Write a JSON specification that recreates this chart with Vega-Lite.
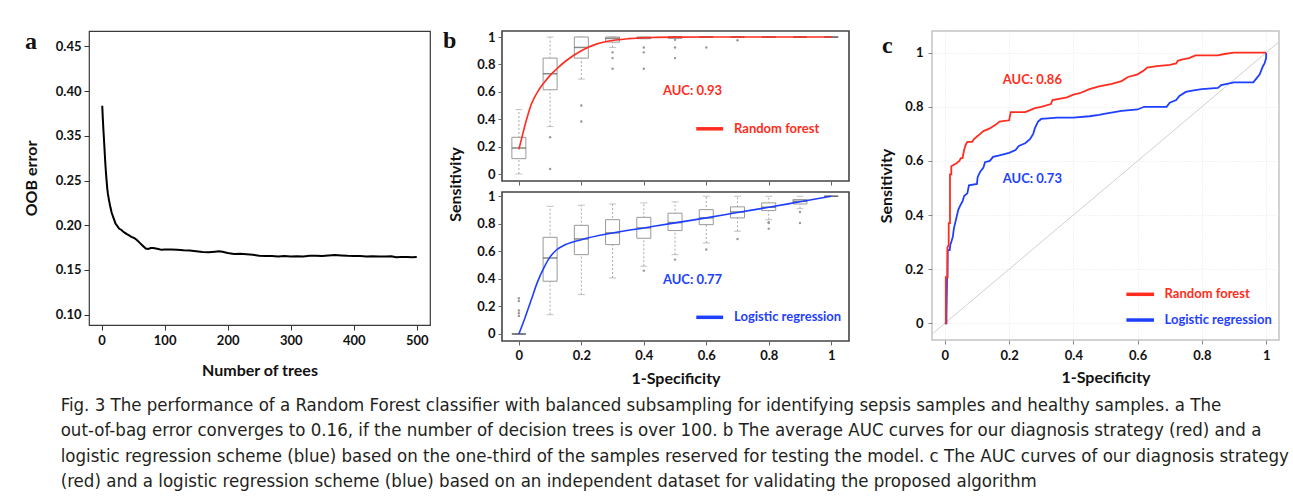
{
  "$schema": "https://vega.github.io/schema/vega-lite/v6.json",
  "background": "white",
  "padding": {"left": 22, "top": 28, "right": 5, "bottom": 5},
  "autosize": {"type": "pad"},
  "config": {
    "font": "Lato",
    "axis": {"labelFont": "Lato", "labelFontWeight": "bold", "labelFontSize": 13, "labelColor": "#111", "titleFont": "Lato", "titleFontWeight": "bold", "titleFontSize": 16, "titleColor": "#111", "grid": false, "domain": false, "tickColor": "#333", "tickSize": 5, "labelPadding": 3},
    "title": {"font": "Liberation Serif", "fontWeight": "bold", "fontSize": 24, "color": "#111"}
  },
  "datasets": {
    "oob": [
      {"trees": 1, "oob": 0.3336}, {"trees": 2, "oob": 0.318}, {"trees": 3, "oob": 0.305}, {"trees": 4, "oob": 0.293}, {"trees": 5, "oob": 0.28}, {"trees": 6, "oob": 0.268}, {"trees": 7, "oob": 0.258}, {"trees": 8, "oob": 0.249}, {"trees": 9, "oob": 0.241}, {"trees": 10, "oob": 0.235}, {"trees": 12, "oob": 0.227}, {"trees": 14, "oob": 0.22}, {"trees": 16, "oob": 0.214}, {"trees": 18, "oob": 0.21}, {"trees": 20, "oob": 0.206}, {"trees": 22, "oob": 0.202}, {"trees": 25, "oob": 0.199}, {"trees": 28, "oob": 0.196}, {"trees": 31, "oob": 0.195}, {"trees": 34, "oob": 0.193}, {"trees": 37, "oob": 0.1915}, {"trees": 40, "oob": 0.19}, {"trees": 43, "oob": 0.189}, {"trees": 46, "oob": 0.1875}, {"trees": 49, "oob": 0.1865}, {"trees": 52, "oob": 0.1855}, {"trees": 55, "oob": 0.184}, {"trees": 58, "oob": 0.182}, {"trees": 61, "oob": 0.18}, {"trees": 64, "oob": 0.178}, {"trees": 67, "oob": 0.176}, {"trees": 70, "oob": 0.174}, {"trees": 74, "oob": 0.1735}, {"trees": 78, "oob": 0.1745}, {"trees": 82, "oob": 0.1745}, {"trees": 86, "oob": 0.174}, {"trees": 90, "oob": 0.1735}, {"trees": 95, "oob": 0.1725}, {"trees": 100, "oob": 0.173}, {"trees": 110, "oob": 0.1728}, {"trees": 120, "oob": 0.1725}, {"trees": 130, "oob": 0.172}, {"trees": 140, "oob": 0.1718}, {"trees": 150, "oob": 0.171}, {"trees": 160, "oob": 0.1702}, {"trees": 170, "oob": 0.1698}, {"trees": 180, "oob": 0.1705}, {"trees": 186, "oob": 0.171}, {"trees": 192, "oob": 0.1703}, {"trees": 200, "oob": 0.169}, {"trees": 210, "oob": 0.1678}, {"trees": 220, "oob": 0.168}, {"trees": 230, "oob": 0.1675}, {"trees": 240, "oob": 0.167}, {"trees": 250, "oob": 0.1658}, {"trees": 260, "oob": 0.1655}, {"trees": 270, "oob": 0.1657}, {"trees": 280, "oob": 0.1652}, {"trees": 290, "oob": 0.1655}, {"trees": 300, "oob": 0.1652}, {"trees": 310, "oob": 0.1654}, {"trees": 320, "oob": 0.1652}, {"trees": 330, "oob": 0.1658}, {"trees": 340, "oob": 0.166}, {"trees": 350, "oob": 0.1657}, {"trees": 360, "oob": 0.1662}, {"trees": 370, "oob": 0.1668}, {"trees": 380, "oob": 0.1663}, {"trees": 390, "oob": 0.1658}, {"trees": 400, "oob": 0.1657}, {"trees": 410, "oob": 0.1655}, {"trees": 420, "oob": 0.1652}, {"trees": 430, "oob": 0.1653}, {"trees": 440, "oob": 0.165}, {"trees": 450, "oob": 0.1652}, {"trees": 460, "oob": 0.1654}, {"trees": 467, "oob": 0.1643}, {"trees": 475, "oob": 0.1645}, {"trees": 485, "oob": 0.1645}, {"trees": 492, "oob": 0.1643}, {"trees": 500, "oob": 0.1645}
    ],
    "rfbox": [
      {"x": 0, "lower": 0, "q1": 0.112, "median": 0.19, "q3": 0.268, "upper": 0.47},
      {"x": 0.1, "lower": 0.346, "q1": 0.615, "median": 0.732, "q3": 0.846, "upper": 1.0},
      {"x": 0.2, "lower": 0.693, "q1": 0.846, "median": 0.924, "q3": 1.0, "upper": 1.0},
      {"x": 0.3, "lower": 0.924, "q1": 0.963, "median": 0.99, "q3": 1.0, "upper": 1.0},
      {"x": 0.4, "lower": 0.988, "q1": 0.988, "median": 0.995, "q3": 1.0, "upper": 1.0},
      {"x": 0.5, "lower": 0.99, "q1": 0.99, "median": 1.0, "q3": 1.0, "upper": 1.0},
      {"x": 0.6, "lower": 1, "q1": 1, "median": 1, "q3": 1, "upper": 1},
      {"x": 0.7, "lower": 1, "q1": 1, "median": 1, "q3": 1, "upper": 1},
      {"x": 0.8, "lower": 1, "q1": 1, "median": 1, "q3": 1, "upper": 1},
      {"x": 0.9, "lower": 1, "q1": 1, "median": 1, "q3": 1, "upper": 1},
      {"x": 1.0, "lower": 1, "q1": 1, "median": 1, "q3": 1, "upper": 1}
    ],
    "rfout": [
      {"x": 0.1, "y": 0.268}, {"x": 0.1, "y": 0.037}, {"x": 0.2, "y": 0.5}, {"x": 0.2, "y": 0.383},
      {"x": 0.3, "y": 0.888}, {"x": 0.3, "y": 0.846}, {"x": 0.3, "y": 0.768},
      {"x": 0.4, "y": 0.924}, {"x": 0.4, "y": 0.888}, {"x": 0.4, "y": 0.768},
      {"x": 0.5, "y": 0.98}, {"x": 0.5, "y": 0.924}, {"x": 0.5, "y": 0.846},
      {"x": 0.6, "y": 0.924}, {"x": 0.7, "y": 0.976}
    ],
    "rfcurve": [
      {"x": 0, "y": 0.18}, {"x": 0.01, "y": 0.27}, {"x": 0.02, "y": 0.36}, {"x": 0.03, "y": 0.44}, {"x": 0.04, "y": 0.51}, {"x": 0.05, "y": 0.56}, {"x": 0.06, "y": 0.6}, {"x": 0.07, "y": 0.635}, {"x": 0.08, "y": 0.665}, {"x": 0.1, "y": 0.72}, {"x": 0.12, "y": 0.765}, {"x": 0.15, "y": 0.825}, {"x": 0.2, "y": 0.9}, {"x": 0.25, "y": 0.95}, {"x": 0.3, "y": 0.975}, {"x": 0.35, "y": 0.988}, {"x": 0.4, "y": 0.995}, {"x": 0.5, "y": 0.999}, {"x": 0.6, "y": 1}, {"x": 0.7, "y": 1}, {"x": 0.8, "y": 1}, {"x": 0.9, "y": 1}, {"x": 1, "y": 1}
    ],
    "lrbox": [
      {"x": 0, "lower": 0, "q1": 0, "median": 0, "q3": 0, "upper": 0},
      {"x": 0.1, "lower": 0.14, "q1": 0.383, "median": 0.552, "q3": 0.702, "upper": 0.927},
      {"x": 0.2, "lower": 0.286, "q1": 0.576, "median": 0.69, "q3": 0.789, "upper": 0.935},
      {"x": 0.3, "lower": 0.407, "q1": 0.649, "median": 0.734, "q3": 0.83, "upper": 0.944},
      {"x": 0.4, "lower": 0.492, "q1": 0.695, "median": 0.77, "q3": 0.847, "upper": 0.952},
      {"x": 0.5, "lower": 0.576, "q1": 0.751, "median": 0.809, "q3": 0.877, "upper": 0.959},
      {"x": 0.6, "lower": 0.661, "q1": 0.794, "median": 0.843, "q3": 0.903, "upper": 1.0},
      {"x": 0.7, "lower": 0.746, "q1": 0.843, "median": 0.886, "q3": 0.923, "upper": 1.0},
      {"x": 0.8, "lower": 0.83, "q1": 0.896, "median": 0.92, "q3": 0.952, "upper": 1.0},
      {"x": 0.9, "lower": 0.91, "q1": 0.944, "median": 0.964, "q3": 0.976, "upper": 1.0},
      {"x": 1.0, "lower": 1, "q1": 1, "median": 1, "q3": 1, "upper": 1}
    ],
    "lrout": [
      {"x": 0, "y": 0.26}, {"x": 0, "y": 0.24}, {"x": 0, "y": 0.17}, {"x": 0, "y": 0.15}, {"x": 0, "y": 0.13},
      {"x": 0.4, "y": 0.46}, {"x": 0.5, "y": 0.54}, {"x": 0.6, "y": 0.613}, {"x": 0.7, "y": 0.69},
      {"x": 0.8, "y": 0.811}, {"x": 0.8, "y": 0.806}, {"x": 0.8, "y": 0.765}, {"x": 0.9, "y": 0.886}, {"x": 0.9, "y": 0.806}
    ],
    "lrcurve": [
      {"x": 0, "y": 0}, {"x": 0.02, "y": 0.12}, {"x": 0.04, "y": 0.25}, {"x": 0.06, "y": 0.38}, {"x": 0.08, "y": 0.48}, {"x": 0.1, "y": 0.56}, {"x": 0.12, "y": 0.61}, {"x": 0.15, "y": 0.65}, {"x": 0.2, "y": 0.685}, {"x": 0.3, "y": 0.733}, {"x": 0.4, "y": 0.77}, {"x": 0.5, "y": 0.807}, {"x": 0.6, "y": 0.843}, {"x": 0.7, "y": 0.882}, {"x": 0.8, "y": 0.92}, {"x": 0.9, "y": 0.96}, {"x": 1, "y": 1}
    ],
    "rocrf": [
      {"x": 0, "y": 0}, {"x": 0.003, "y": 0}, {"x": 0.003, "y": 0.17}, {"x": 0.008, "y": 0.17}, {"x": 0.008, "y": 0.28}, {"x": 0.012, "y": 0.29}, {"x": 0.012, "y": 0.37}, {"x": 0.016, "y": 0.37}, {"x": 0.016, "y": 0.55}, {"x": 0.02, "y": 0.55}, {"x": 0.02, "y": 0.58}, {"x": 0.035, "y": 0.59}, {"x": 0.045, "y": 0.6}, {"x": 0.05, "y": 0.61}, {"x": 0.055, "y": 0.61}, {"x": 0.06, "y": 0.64}, {"x": 0.065, "y": 0.66}, {"x": 0.07, "y": 0.67}, {"x": 0.085, "y": 0.67}, {"x": 0.09, "y": 0.68}, {"x": 0.1, "y": 0.69}, {"x": 0.11, "y": 0.7}, {"x": 0.12, "y": 0.71}, {"x": 0.14, "y": 0.72}, {"x": 0.16, "y": 0.735}, {"x": 0.17, "y": 0.745}, {"x": 0.2, "y": 0.75}, {"x": 0.205, "y": 0.78}, {"x": 0.25, "y": 0.78}, {"x": 0.26, "y": 0.785}, {"x": 0.28, "y": 0.795}, {"x": 0.3, "y": 0.8}, {"x": 0.33, "y": 0.81}, {"x": 0.335, "y": 0.825}, {"x": 0.38, "y": 0.835}, {"x": 0.4, "y": 0.845}, {"x": 0.42, "y": 0.85}, {"x": 0.45, "y": 0.865}, {"x": 0.48, "y": 0.875}, {"x": 0.5, "y": 0.88}, {"x": 0.52, "y": 0.885}, {"x": 0.55, "y": 0.895}, {"x": 0.57, "y": 0.91}, {"x": 0.6, "y": 0.92}, {"x": 0.62, "y": 0.935}, {"x": 0.63, "y": 0.945}, {"x": 0.66, "y": 0.95}, {"x": 0.7, "y": 0.955}, {"x": 0.72, "y": 0.96}, {"x": 0.725, "y": 0.97}, {"x": 0.74, "y": 0.975}, {"x": 0.76, "y": 0.98}, {"x": 0.78, "y": 0.99}, {"x": 0.85, "y": 0.99}, {"x": 0.87, "y": 0.995}, {"x": 0.9, "y": 1.0}, {"x": 1.0, "y": 1.0}
    ],
    "roclr": [
      {"x": 0, "y": 0}, {"x": 0.005, "y": 0}, {"x": 0.005, "y": 0.03}, {"x": 0.007, "y": 0.17}, {"x": 0.008, "y": 0.17}, {"x": 0.009, "y": 0.27}, {"x": 0.015, "y": 0.27}, {"x": 0.017, "y": 0.29}, {"x": 0.02, "y": 0.3}, {"x": 0.025, "y": 0.32}, {"x": 0.028, "y": 0.35}, {"x": 0.032, "y": 0.37}, {"x": 0.038, "y": 0.4}, {"x": 0.042, "y": 0.42}, {"x": 0.05, "y": 0.44}, {"x": 0.055, "y": 0.45}, {"x": 0.06, "y": 0.47}, {"x": 0.07, "y": 0.48}, {"x": 0.075, "y": 0.51}, {"x": 0.1, "y": 0.515}, {"x": 0.102, "y": 0.54}, {"x": 0.11, "y": 0.56}, {"x": 0.12, "y": 0.575}, {"x": 0.125, "y": 0.595}, {"x": 0.14, "y": 0.6}, {"x": 0.15, "y": 0.615}, {"x": 0.17, "y": 0.62}, {"x": 0.2, "y": 0.63}, {"x": 0.22, "y": 0.64}, {"x": 0.23, "y": 0.655}, {"x": 0.25, "y": 0.665}, {"x": 0.265, "y": 0.68}, {"x": 0.275, "y": 0.7}, {"x": 0.28, "y": 0.72}, {"x": 0.29, "y": 0.745}, {"x": 0.3, "y": 0.755}, {"x": 0.35, "y": 0.76}, {"x": 0.4, "y": 0.76}, {"x": 0.45, "y": 0.765}, {"x": 0.48, "y": 0.77}, {"x": 0.5, "y": 0.775}, {"x": 0.55, "y": 0.785}, {"x": 0.6, "y": 0.79}, {"x": 0.62, "y": 0.8}, {"x": 0.69, "y": 0.8}, {"x": 0.7, "y": 0.815}, {"x": 0.72, "y": 0.825}, {"x": 0.73, "y": 0.84}, {"x": 0.75, "y": 0.855}, {"x": 0.77, "y": 0.86}, {"x": 0.8, "y": 0.865}, {"x": 0.85, "y": 0.87}, {"x": 0.86, "y": 0.88}, {"x": 0.9, "y": 0.89}, {"x": 0.96, "y": 0.89}, {"x": 0.97, "y": 0.905}, {"x": 0.98, "y": 0.92}, {"x": 0.99, "y": 0.95}, {"x": 0.995, "y": 0.96}, {"x": 1.0, "y": 0.98}, {"x": 1.0, "y": 1.0}
    ]
  },
  "title": {
    "text": [
      "Fig. 3  The performance of a Random Forest classifier with balanced subsampling for identifying sepsis samples and healthy samples. a The",
      "out-of-bag error converges to 0.16, if the number of decision trees is over 100. b The average AUC curves for our diagnosis strategy (red) and a",
      "logistic regression scheme (blue) based on the one-third of the samples reserved for testing the model. c The AUC curves of our diagnosis strategy",
      "(red) and a logistic regression scheme (blue) based on an independent dataset for validating the proposed algorithm"
    ],
    "orient": "bottom", "anchor": "start", "frame": "bounds", "dx": 38, "offset": 9,
    "font": "Liberation Sans Narrow, DejaVu Sans Condensed, sans-serif", "fontSize": 18.5, "fontWeight": "normal", "lineHeight": 25.5, "color": "#231f20", "baseline": "top"
  },
  "bounds": "flush",
  "spacing": 72,
  "hconcat": [
    {
      "width": 341, "height": 294,
      "view": {"stroke": "#3a3a3a", "strokeWidth": 1.2},
      "title": {"text": "a", "anchor": "start", "frame": "group", "dx": -64, "dy": 42, "offset": 0, "baseline": "alphabetic"},
      "data": {"name": "oob"},
      "mark": {"type": "line", "color": "#000", "strokeWidth": 2},
      "encoding": {
        "x": {"field": "trees", "type": "quantitative", "scale": {"domain": [-20, 521], "nice": false, "zero": false},
              "axis": {"values": [0, 100, 200, 300, 400, 500], "title": "Number of trees", "titlePadding": 15, "labelPadding": 4}},
        "y": {"field": "oob", "type": "quantitative", "scale": {"domain": [0.0885, 0.4171], "nice": false, "zero": false},
              "axis": {"values": [0.1, 0.15, 0.2, 0.25, 0.3, 0.35, 0.4], "labelExpr": "datum.value > 0.29 ? format(datum.value + 0.05, '.2f') : format(datum.value, '.2f')", "title": "OOB error", "titlePadding": 16}}
      }
    },
    {
      "bounds": "flush",
      "spacing": 430,
      "hconcat": [
        {
          "bounds": "flush",
          "spacing": 11,
          "vconcat": [
            {
              "width": 347, "height": 150,
              "view": {"stroke": "#444", "strokeWidth": 1.6},
              "title": {"text": "b", "anchor": "start", "frame": "group", "dx": -59, "dy": 41, "offset": 0, "baseline": "alphabetic"},
              "layer": [
                {
                  "data": {"name": "rfbox"},
                  "mark": {"type": "rule", "color": "#aaa", "strokeDash": [2, 2]},
                  "encoding": {
                    "x": {"field": "x", "type": "quantitative", "scale": {"domain": [-0.038, 1.041], "nice": false, "zero": false},
                          "axis": {"values": [0, 0.1, 0.2, 0.3, 0.4, 0.5, 0.6, 0.7, 0.8, 0.9, 1], "labels": false, "title": null, "tickSize": 4, "tickColor": "#666"}},
                    "y": {"field": "lower", "type": "quantitative", "scale": {"domain": [-0.051, 1.044], "nice": false, "zero": false},
                          "axis": {"tickCount": 5, "labelOverlap": false, "labelExpr": "format(datum.value, '~g')", "title": "Sensitivity", "titleX": -47, "titleY": 153, "titleAlign": "center", "titleBaseline": "middle", "tickSize": 4, "tickColor": "#666"}},
                    "y2": {"field": "upper"}
                  }
                },
                {
                  "data": {"name": "rfbox"},
                  "mark": {"type": "tick", "orient": "horizontal", "color": "#aaa", "size": 7, "thickness": 1},
                  "encoding": {"x": {"field": "x", "type": "quantitative"}, "y": {"field": "lower", "type": "quantitative"}}
                },
                {
                  "data": {"name": "rfbox"},
                  "mark": {"type": "tick", "orient": "horizontal", "color": "#aaa", "size": 7, "thickness": 1},
                  "encoding": {"x": {"field": "x", "type": "quantitative"}, "y": {"field": "upper", "type": "quantitative"}}
                },
                {
                  "data": {"name": "rfbox"},
                  "mark": {"type": "bar", "size": 14, "fill": "white", "stroke": "#999", "strokeWidth": 1},
                  "encoding": {"x": {"field": "x", "type": "quantitative"}, "y": {"field": "q1", "type": "quantitative"}, "y2": {"field": "q3"}}
                },
                {
                  "data": {"name": "rfbox"},
                  "mark": {"type": "tick", "orient": "horizontal", "color": "#555", "size": 14, "thickness": 1.5},
                  "encoding": {"x": {"field": "x", "type": "quantitative"}, "y": {"field": "median", "type": "quantitative"}}
                },
                {
                  "data": {"name": "rfout"},
                  "mark": {"type": "point", "filled": true, "size": 6, "color": "#999", "opacity": 1},
                  "encoding": {"x": {"field": "x", "type": "quantitative"}, "y": {"field": "y", "type": "quantitative"}}
                },
                {
                  "data": {"name": "rfcurve"},
                  "mark": {"type": "line", "color": "#ff2d20", "strokeWidth": 1.6, "interpolate": "monotone"},
                  "encoding": {"x": {"field": "x", "type": "quantitative"}, "y": {"field": "y", "type": "quantitative"}}
                },
                {
                  "data": {"values": [{}]},
                  "layer": [
                    {"mark": {"type": "text", "text": "AUC: 0.93", "color": "#ff2d20", "font": "Lato", "fontWeight": "bold", "fontSize": 13, "align": "center", "baseline": "middle"},
                     "encoding": {"x": {"datum": 0.556, "type": "quantitative"}, "y": {"datum": 0.607, "type": "quantitative"}}},
                    {"mark": {"type": "rule", "color": "#ff2d20", "strokeWidth": 3.5},
                     "encoding": {"x": {"datum": 0.568, "type": "quantitative"}, "x2": {"datum": 0.654}, "y": {"datum": 0.33, "type": "quantitative"}}},
                    {"mark": {"type": "text", "text": "Random forest", "color": "#ff2d20", "font": "Lato", "fontWeight": "bold", "fontSize": 13, "align": "left", "baseline": "middle"},
                     "encoding": {"x": {"datum": 0.689, "type": "quantitative"}, "y": {"datum": 0.33, "type": "quantitative"}}}
                  ]
                }
              ]
            },
            {
              "width": 347, "height": 149,
              "view": {"stroke": "#444", "strokeWidth": 1.6},
              "layer": [
                {
                  "data": {"name": "lrbox"},
                  "mark": {"type": "rule", "color": "#aaa", "strokeDash": [2, 2]},
                  "encoding": {
                    "x": {"field": "x", "type": "quantitative", "scale": {"domain": [-0.038, 1.041], "nice": false, "zero": false},
                          "axis": {"values": [0, 0.2, 0.4, 0.6, 0.8, 1], "labelExpr": "format(datum.value, '~g')", "title": "1-Specificity", "tickSize": 4, "tickColor": "#666", "labelPadding": 4, "titlePadding": 8}},
                    "y": {"field": "lower", "type": "quantitative", "scale": {"domain": [-0.051, 1.031], "nice": false, "zero": false},
                          "axis": {"tickCount": 5, "labelOverlap": false, "labelExpr": "format(datum.value, '~g')", "title": null, "tickSize": 4, "tickColor": "#666"}},
                    "y2": {"field": "upper"}
                  }
                },
                {
                  "data": {"name": "lrbox"},
                  "mark": {"type": "tick", "orient": "horizontal", "color": "#aaa", "size": 7, "thickness": 1},
                  "encoding": {"x": {"field": "x", "type": "quantitative"}, "y": {"field": "lower", "type": "quantitative"}}
                },
                {
                  "data": {"name": "lrbox"},
                  "mark": {"type": "tick", "orient": "horizontal", "color": "#aaa", "size": 7, "thickness": 1},
                  "encoding": {"x": {"field": "x", "type": "quantitative"}, "y": {"field": "upper", "type": "quantitative"}}
                },
                {
                  "data": {"name": "lrbox"},
                  "mark": {"type": "bar", "size": 14, "fill": "white", "stroke": "#999", "strokeWidth": 1},
                  "encoding": {"x": {"field": "x", "type": "quantitative"}, "y": {"field": "q1", "type": "quantitative"}, "y2": {"field": "q3"}}
                },
                {
                  "data": {"name": "lrbox"},
                  "mark": {"type": "tick", "orient": "horizontal", "color": "#555", "size": 14, "thickness": 1.5},
                  "encoding": {"x": {"field": "x", "type": "quantitative"}, "y": {"field": "median", "type": "quantitative"}}
                },
                {
                  "data": {"name": "lrout"},
                  "mark": {"type": "point", "filled": true, "size": 6, "color": "#999", "opacity": 1},
                  "encoding": {"x": {"field": "x", "type": "quantitative"}, "y": {"field": "y", "type": "quantitative"}}
                },
                {
                  "data": {"name": "lrcurve"},
                  "mark": {"type": "line", "color": "#1f3fff", "strokeWidth": 1.6, "interpolate": "monotone"},
                  "encoding": {"x": {"field": "x", "type": "quantitative"}, "y": {"field": "y", "type": "quantitative"}}
                },
                {
                  "data": {"values": [{}]},
                  "layer": [
                    {"mark": {"type": "text", "text": "AUC: 0.77", "color": "#1f3fff", "font": "Lato", "fontWeight": "bold", "fontSize": 13, "align": "center", "baseline": "middle"},
                     "encoding": {"x": {"datum": 0.556, "type": "quantitative"}, "y": {"datum": 0.394, "type": "quantitative"}}},
                    {"mark": {"type": "rule", "color": "#1f3fff", "strokeWidth": 3.5},
                     "encoding": {"x": {"datum": 0.568, "type": "quantitative"}, "x2": {"datum": 0.654}, "y": {"datum": 0.121, "type": "quantitative"}}},
                    {"mark": {"type": "text", "text": "Logistic regression", "color": "#1f3fff", "font": "Lato", "fontWeight": "bold", "fontSize": 13, "align": "left", "baseline": "middle"},
                     "encoding": {"x": {"datum": 0.689, "type": "quantitative"}, "y": {"datum": 0.121, "type": "quantitative"}}}
                  ]
                }
              ]
            }
          ]
        },
        {
          "width": 347, "height": 309,
          "view": {"stroke": "#c4c4c4", "strokeWidth": 1.5},
          "title": {"text": "c", "anchor": "start", "frame": "group", "dx": -50, "dy": 46, "offset": 0, "baseline": "alphabetic"},
          "layer": [
            {
              "data": {"values": [{}]},
              "mark": {"type": "rule", "color": "#d0d0d0", "strokeWidth": 1, "clip": true},
              "encoding": {
                "x": {"datum": -0.04, "type": "quantitative", "scale": {"domain": [-0.04, 1.04], "nice": false, "zero": false},
                      "axis": {"values": [0, 0.1, 0.2, 0.3, 0.4, 0.5, 0.6, 0.7, 0.8, 0.9, 1], "labelExpr": "round(datum.value * 10) % 2 == 0 ? format(datum.value, '~g') : ''", "tickOpacity": {"condition": {"test": "round(datum.value * 10) % 2 == 0", "value": 1}, "value": 0}, "grid": true, "gridColor": "#e6e6e6", "gridDash": [1, 2], "title": "1-Specificity", "tickSize": 4, "tickColor": "#888", "labelPadding": 5, "titlePadding": 7}},
                "y": {"datum": -0.04, "type": "quantitative", "scale": {"domain": [-0.0618, 1.08], "nice": false, "zero": false},
                      "axis": {"values": [0, 0.1, 0.2, 0.3, 0.4, 0.5, 0.6, 0.7, 0.8, 0.9, 1], "labelExpr": "round(datum.value * 10) % 2 == 0 ? format(datum.value, '~g') : ''", "tickOpacity": {"condition": {"test": "round(datum.value * 10) % 2 == 0", "value": 1}, "value": 0}, "grid": true, "gridColor": "#e6e6e6", "gridDash": [1, 2], "title": "Sensitivity", "titlePadding": 10, "tickSize": 4, "tickColor": "#888", "labelPadding": 5}},
                "x2": {"datum": 1.04},
                "y2": {"datum": 1.04}
              }
            },
            {
              "data": {"name": "roclr"},
              "mark": {"type": "line", "color": "#1f3fff", "strokeWidth": 1.8},
              "encoding": {"x": {"field": "x", "type": "quantitative"}, "y": {"field": "y", "type": "quantitative"}, "order": {"value": null}}
            },
            {
              "data": {"name": "rocrf"},
              "mark": {"type": "line", "color": "#ff2d20", "strokeWidth": 1.8},
              "encoding": {"x": {"field": "x", "type": "quantitative"}, "y": {"field": "y", "type": "quantitative"}, "order": {"value": null}}
            },
            {
              "data": {"values": [{}]},
              "layer": [
                {"mark": {"type": "text", "text": "AUC: 0.86", "color": "#ff2d20", "font": "Lato", "fontWeight": "bold", "fontSize": 13, "align": "left", "baseline": "middle"},
                 "encoding": {"x": {"datum": 0.18, "type": "quantitative"}, "y": {"datum": 0.898, "type": "quantitative"}}},
                {"mark": {"type": "text", "text": "AUC: 0.73", "color": "#1f3fff", "font": "Lato", "fontWeight": "bold", "fontSize": 13, "align": "left", "baseline": "middle"},
                 "encoding": {"x": {"datum": 0.18, "type": "quantitative"}, "y": {"datum": 0.533, "type": "quantitative"}}},
                {"mark": {"type": "rule", "color": "#ff2d20", "strokeWidth": 3.5},
                 "encoding": {"x": {"datum": 0.565, "type": "quantitative"}, "x2": {"datum": 0.651}, "y": {"datum": 0.107, "type": "quantitative"}}},
                {"mark": {"type": "text", "text": "Random forest", "color": "#ff2d20", "font": "Lato", "fontWeight": "bold", "fontSize": 13, "align": "left", "baseline": "middle"},
                 "encoding": {"x": {"datum": 0.684, "type": "quantitative"}, "y": {"datum": 0.107, "type": "quantitative"}}},
                {"mark": {"type": "rule", "color": "#1f3fff", "strokeWidth": 3.5},
                 "encoding": {"x": {"datum": 0.565, "type": "quantitative"}, "x2": {"datum": 0.651}, "y": {"datum": 0.012, "type": "quantitative"}}},
                {"mark": {"type": "text", "text": "Logistic regression", "color": "#1f3fff", "font": "Lato", "fontWeight": "bold", "fontSize": 13, "align": "left", "baseline": "middle"},
                 "encoding": {"x": {"datum": 0.684, "type": "quantitative"}, "y": {"datum": 0.012, "type": "quantitative"}}}
              ]
            }
          ]
        }
      ]
    }
  ]
}
